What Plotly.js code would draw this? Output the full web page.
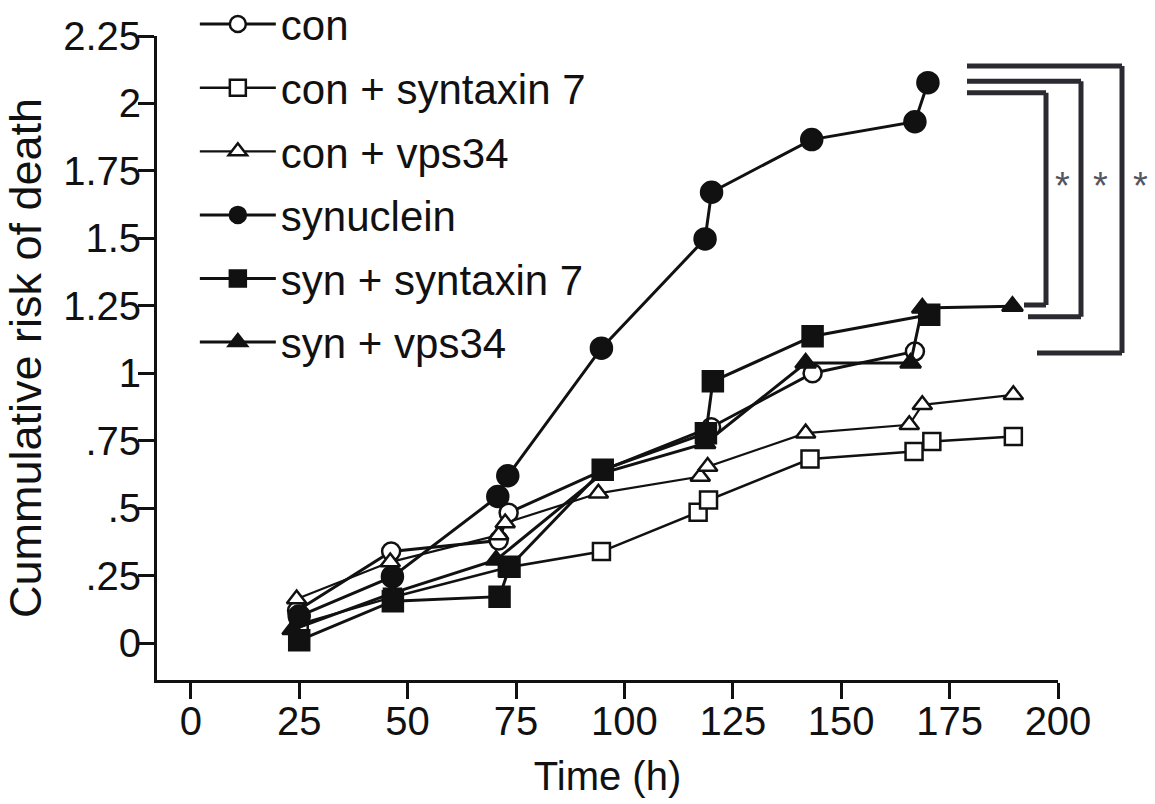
<!DOCTYPE html>
<html>
<head>
<meta charset="utf-8">
<script src="https://cdn.plot.ly/plotly-3.0.1.min.js"></script>
<style>html,body{margin:0;padding:0;background:#fff;}#chart{width:1155px;height:804px;}</style>
</head>
<body>
<div id="chart"></div>
<script>
// ---- data ----
const seriesNames = ["con", "con + syntaxin 7", "con + vps34", "synuclein", "syn + syntaxin 7", "syn + vps34"];

const conT   = [24.5, 46.2, 71, 73.3, 95, 120, 143.4, 167];
const conY   = [0.12, 0.339, 0.38, 0.483, 0.64, 0.80, 1.00, 1.081];

const conStxT = [25, 46.5, 73, 94.7, 117, 119.4, 142.8, 166.8, 170.9, 189.7];
const conStxY = [0.07, 0.17, 0.28, 0.339, 0.485, 0.53, 0.682, 0.71, 0.747, 0.766];

const conVpsT = [24.4, 46, 71, 72.5, 94, 117.5, 119.2, 141.8, 165.7, 168.7, 189.7];
const conVpsY = [0.163, 0.30, 0.40, 0.445, 0.555, 0.617, 0.654, 0.778, 0.809, 0.883, 0.92];

const synT = [25, 46.5, 70.8, 73.1, 94.7, 118.6, 120.1, 143.2, 167, 170];
const synY = [0.10, 0.246, 0.543, 0.62, 1.093, 1.498, 1.671, 1.866, 1.932, 2.077];

const synStxT = [25, 46.6, 71.2, 73.5, 95, 118.8, 120.4, 143.4, 170.3];
const synStxY = [0.01, 0.155, 0.172, 0.283, 0.642, 0.778, 0.97, 1.137, 1.217];

const synVpsT = [23.5, 46.5, 70.4, 95, 118.6, 141.8, 166, 168.7, 189.5];
const synVpsY = [0.05, 0.185, 0.308, 0.63, 0.74, 1.038, 1.038, 1.242, 1.248];

const xTickVals = [0, 25, 50, 75, 100, 125, 150, 175, 200];
const yTickVals = [0, 0.25, 0.5, 0.75, 1, 1.25, 1.5, 1.75, 2, 2.25];
const yTickText = ["0", ".25", ".5", ".75", "1", "1.25", "1.5", "1.75", "2", "2.25"];

// ---- styling ----
const FONT = "Liberation Sans, Arial, sans-serif";
const INK = "#111111";

function mk(name, x, y, symbol, fill, size, lw) {
  return {
    type: "scatter", mode: "lines+markers", name: name, x: x, y: y,
    legendgroup: name,
    line: {color: INK, width: lw},
    marker: {symbol: symbol, size: size, color: fill, line: {color: INK, width: 2.5}},
    cliponaxis: false
  };
}

const traces = [
  mk(seriesNames[0], conT, conY, "circle", "#ffffff", 18, 3),
  mk(seriesNames[1], conStxT, conStxY, "square", "#ffffff", 17, 2.5),
  mk(seriesNames[2], conVpsT, conVpsY, "triangle-up", "#ffffff", 17, 2.2),
  mk(seriesNames[3], synT, synY, "circle", INK, 21, 3),
  mk(seriesNames[4], synStxT, synStxY, "square", INK, 20, 3),
  mk(seriesNames[5], synVpsT, synVpsY, "triangle-up", INK, 18, 3)
];

// significance brackets (paper coordinates)
const L = 157, R = 1058, T = 36, B = 680;
const px = v => (v - L) / (R - L);
const py = v => (B - v) / (B - T);
const BR = "#2b2a30";
function bracket(xs, xe, yTop, yBot, xb) {
  return [
    {type: "line", xref: "paper", yref: "paper", x0: px(xs), x1: px(xe), y0: py(yTop), y1: py(yTop), line: {color: BR, width: 5}},
    {type: "line", xref: "paper", yref: "paper", x0: px(xe), x1: px(xe), y0: py(yTop), y1: py(yBot), line: {color: BR, width: 5}},
    {type: "line", xref: "paper", yref: "paper", x0: px(xb), x1: px(xe), y0: py(yBot), y1: py(yBot), line: {color: BR, width: 5}}
  ];
}
const shapes = [].concat(
  bracket(967, 1046, 92.7, 305, 1024),
  bracket(967, 1081, 81.3, 316.7, 1028),
  bracket(967, 1122, 66, 353, 1037)
);
const annotations = [1062, 1100, 1140].map(x => ({
  xref: "paper", yref: "paper", x: px(x), y: py(186), text: "*", showarrow: false,
  font: {family: FONT, size: 38, color: "#55555f"}, xanchor: "center", yanchor: "middle"
}));

const layout = {
  width: 1155, height: 804,
  margin: {l: L, r: 1155 - R, t: T, b: 804 - B, autoexpand: false},
  paper_bgcolor: "#ffffff", plot_bgcolor: "#ffffff",
  font: {family: FONT, color: INK},
  showlegend: true,
  legend: {
    x: 0.042, y: 1.071, xanchor: "left", yanchor: "top",
    font: {family: FONT, size: 42, color: INK},
    bgcolor: "rgba(0,0,0,0)", tracegroupgap: 6, itemwidth: 76,
    traceorder: "grouped"
  },
  xaxis: {
    range: [-7.8, 200], tickvals: xTickVals, ticktext: xTickVals.map(String),
    showgrid: false, zeroline: false, showline: true, linecolor: INK, linewidth: 3,
    ticks: "outside", ticklen: 16, tickwidth: 3, tickcolor: INK, ticklabelstandoff: -12,
    tickfont: {family: FONT, size: 40, color: INK},
    title: {text: "Time (h)", font: {family: FONT, size: 40, color: INK}, standoff: 20}
  },
  yaxis: {
    range: [-0.137, 2.25], tickvals: yTickVals, ticktext: yTickText,
    showgrid: false, zeroline: false, showline: true, linecolor: INK, linewidth: 3,
    ticks: "outside", ticklen: 16, tickwidth: 3, tickcolor: INK, ticklabelstandoff: -11,
    tickfont: {family: FONT, size: 40, color: INK},
    title: {text: "Cummulative risk of death", font: {family: FONT, size: 45, color: INK}, standoff: 8}
  },
  shapes: shapes,
  annotations: annotations
};

Plotly.newPlot("chart", traces, layout, {displayModeBar: false, staticPlot: true});
</script>
</body>
</html>
